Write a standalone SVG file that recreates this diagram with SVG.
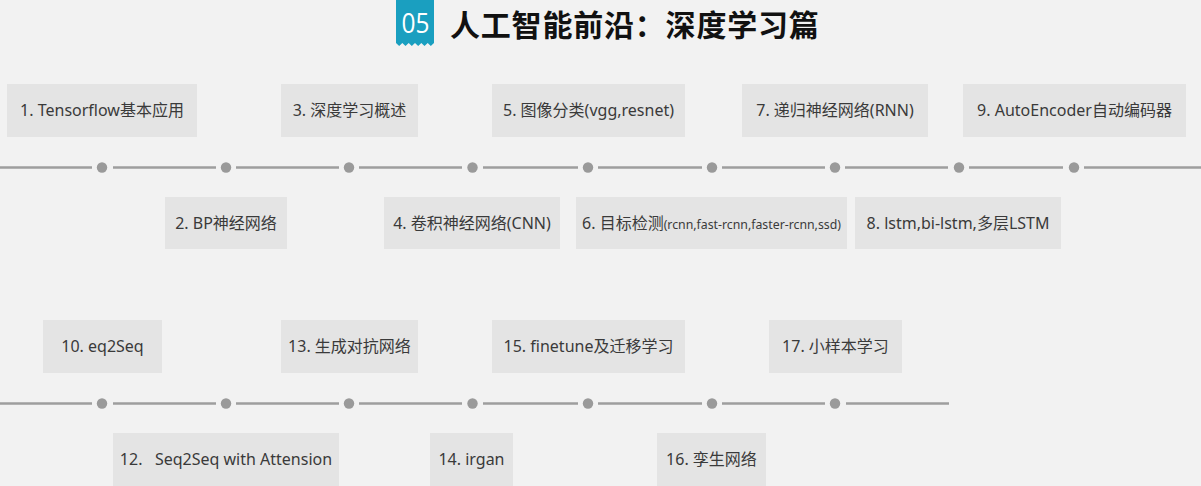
<svg xmlns="http://www.w3.org/2000/svg" width="1201" height="486" viewBox="0 0 1201 486">
<style>
.bg{fill:#f2f2f2}
.box{fill:#e4e4e4}
.t{font-family:"Noto Sans","Noto Sans CJK SC",sans-serif;font-size:16px;fill:#3a3a3a;text-anchor:middle}
.sm{font-size:12.3px}
.ln{stroke:#9e9e9e;stroke-width:2.6;fill:none}
.dot{fill:#9a9a9a}
</style>
<rect class="bg" x="0" y="0" width="1201" height="486"/>
<g id="title">
<path d="M396,0 H434 V43 L430.8,46 L427.7,43 L424.5,46 L421.3,43 L418.2,46 L415,43 L411.8,46 L408.7,43 L405.5,46 L402.3,43 L399.2,46 L396,43 Z" fill="#1a9fc0"/>
<text x="415.5" y="33" font-family="Open Sans, Noto Sans, sans-serif" font-weight="400" font-size="28" fill="#ffffff" text-anchor="middle" textLength="28" lengthAdjust="spacingAndGlyphs">05</text>
<text x="450" y="36" font-family="Noto Sans CJK SC, sans-serif" font-weight="600" font-size="30" fill="#111111" letter-spacing="0.8">人工智能前沿：深度学习篇</text>
</g>
<g id="connectors">
<path class="ln" d="M0,167.5H92 M113,167.5H216 M236,167.5H339 M359,167.5H462 M483,167.5H578 M598,167.5H702 M722,167.5H825 M845,167.5H948 M969,167.5H1063 M1084,167.5H1201"/>
<g class="dot">
<circle cx="102" cy="167.5" r="5.2"/><circle cx="226" cy="167.5" r="5.2"/><circle cx="349" cy="167.5" r="5.2"/><circle cx="472.5" cy="167.5" r="5.2"/><circle cx="588" cy="167.5" r="5.2"/><circle cx="712" cy="167.5" r="5.2"/><circle cx="835" cy="167.5" r="5.2"/><circle cx="959" cy="167.5" r="5.2"/><circle cx="1074" cy="167.5" r="5.2"/>
</g>
<path class="ln" d="M0,403.5H92 M113,403.5H216 M236,403.5H339 M359,403.5H462 M483,403.5H578 M598,403.5H702 M722,403.5H825 M846,403.5H949"/>
<g class="dot">
<circle cx="102" cy="403.5" r="5.2"/><circle cx="226" cy="403.5" r="5.2"/><circle cx="349" cy="403.5" r="5.2"/><circle cx="472.5" cy="403.5" r="5.2"/><circle cx="588" cy="403.5" r="5.2"/><circle cx="712" cy="403.5" r="5.2"/><circle cx="835" cy="403.5" r="5.2"/>
</g>
</g>
<g id="n1"><rect class="box" x="7" y="84" width="190" height="53"/><text class="t" x="102" y="116">1. Tensorflow基本应用</text></g>
<g id="n2"><rect class="box" x="165" y="197" width="122" height="52"/><text class="t" x="226" y="229">2. BP神经网络</text></g>
<g id="n3"><rect class="box" x="281" y="84" width="137" height="53"/><text class="t" x="349.5" y="116">3. 深度学习概述</text></g>
<g id="n4"><rect class="box" x="384" y="197" width="176" height="52"/><text class="t" x="472" y="229">4. 卷积神经网络(CNN)</text></g>
<g id="n5"><rect class="box" x="492" y="84" width="193" height="53"/><text class="t" x="588.5" y="116">5. 图像分类(vgg,resnet)</text></g>
<g id="n6"><rect class="box" x="576" y="197" width="271" height="52"/><text class="t" x="711.5" y="229">6. 目标检测<tspan class="sm">(rcnn,fast-rcnn,faster-rcnn,ssd)</tspan></text></g>
<g id="n7"><rect class="box" x="742" y="84" width="186" height="53"/><text class="t" x="835" y="116">7. 递归神经网络(RNN)</text></g>
<g id="n8"><rect class="box" x="855" y="197" width="206" height="52"/><text class="t" x="958" y="229">8. lstm,bi-lstm,多层LSTM</text></g>
<g id="n9"><rect class="box" x="963" y="84" width="223" height="53"/><text class="t" x="1074.5" y="116">9. AutoEncoder自动编码器</text></g>
<g id="n10"><rect class="box" x="43" y="320" width="119" height="53"/><text class="t" x="102.5" y="352">10. eq2Seq</text></g>
<g id="n12"><rect class="box" x="113" y="433" width="226" height="53"/><text class="t" x="226" y="465" xml:space="preserve">12.   Seq2Seq with Attension</text></g>
<g id="n13"><rect class="box" x="281" y="320" width="137" height="53"/><text class="t" x="349.5" y="352">13. 生成对抗网络</text></g>
<g id="n14"><rect class="box" x="430" y="433" width="83" height="53"/><text class="t" x="471.5" y="465">14. irgan</text></g>
<g id="n15"><rect class="box" x="492" y="320" width="193" height="53"/><text class="t" x="588.5" y="352">15. finetune及迁移学习</text></g>
<g id="n16"><rect class="box" x="657" y="433" width="109" height="53"/><text class="t" x="711.5" y="465">16. 孪生网络</text></g>
<g id="n17"><rect class="box" x="769" y="320" width="133" height="53"/><text class="t" x="835.5" y="352">17. 小样本学习</text></g>
</svg>
